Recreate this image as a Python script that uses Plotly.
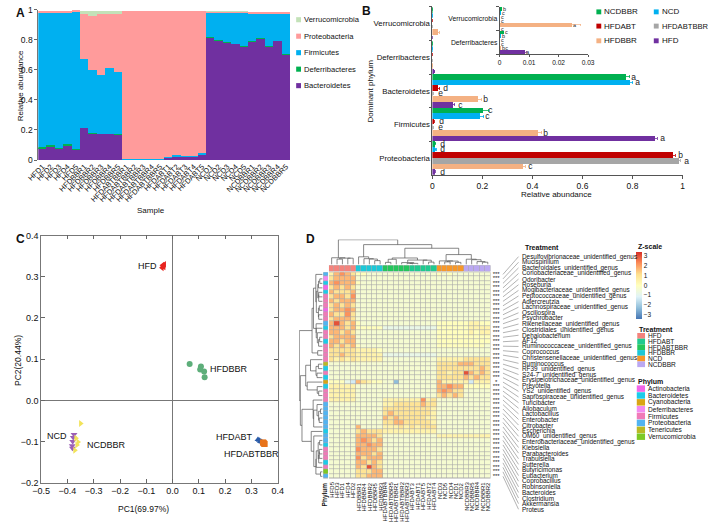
import numpy as np
import plotly.graph_objects as go

W, H = 708, 529
FONT = "Liberation Sans, Arial, sans-serif"


def fx(x):
    return x / W


def fy(y):
    return 1 - y / H


# ======================= DATA =======================
# ---- Panel A: relative abundance per sample ----
samples_A = ["HFD1", "HFD2", "HFD3", "HFD4", "HFD5",
             "HFDBBR1", "HFDBBR2", "HFDBBR3", "HFDBBR4", "HFDBBR5",
             "HFDABTBBR1", "HFDABTBBR2", "HFDABTBBR3", "HFDABTBBR4", "HFDABTBBR5",
             "HFDABT1", "HFDABT2", "HFDABT3", "HFDABT4", "HFDABT5",
             "NCD1", "NCD2", "NCD3", "NCD4", "NCD5",
             "NCDBBR1", "NCDBBR2", "NCDBBR3", "NCDBBR4", "NCDBBR5"]
bacteroidetes_A = [0.080, 0.090, 0.075, 0.095, 0.070, 0.215, 0.180, 0.175, 0.175, 0.170,
                   0.004, 0.004, 0.004, 0.004, 0.004, 0.018, 0.024, 0.022, 0.024, 0.036,
                   0.820, 0.800, 0.785, 0.775, 0.760, 0.790, 0.810, 0.760, 0.795, 0.705]
deferribacteres_A = [0.008, 0.008, 0.007, 0.010, 0.006, 0.001, 0.001, 0.001, 0.001, 0.001,
                     0.000, 0.000, 0.000, 0.000, 0.000, 0.001, 0.001, 0.001, 0.001, 0.001,
                     0.001, 0.001, 0.001, 0.001, 0.001, 0.001, 0.001, 0.001, 0.001, 0.001]
firmicutes_A = [0.892, 0.882, 0.898, 0.875, 0.914, 0.460, 0.420, 0.390, 0.435, 0.415,
                0.003, 0.003, 0.003, 0.003, 0.003, 0.005, 0.007, 0.004, 0.005, 0.008,
                0.163, 0.183, 0.197, 0.205, 0.220, 0.188, 0.168, 0.218, 0.183, 0.273]
proteobacteria_A = [0.012, 0.012, 0.012, 0.012, 0.006, 0.300, 0.360, 0.405, 0.360, 0.390,
                    0.988, 0.988, 0.988, 0.988, 0.988, 0.971, 0.963, 0.968, 0.965, 0.950,
                    0.006, 0.006, 0.007, 0.006, 0.008, 0.008, 0.008, 0.009, 0.008, 0.008]
verrucomicrobia_A = [0.000, 0.000, 0.000, 0.000, 0.000, 0.020, 0.035, 0.025, 0.025, 0.020,
                     0.000, 0.000, 0.000, 0.000, 0.000, 0.000, 0.000, 0.000, 0.000, 0.000,
                     0.002, 0.002, 0.002, 0.002, 0.002, 0.000, 0.000, 0.000, 0.000, 0.000]

# ---- Panel B: group means (categories listed bottom to top) ----
phyla_B = ["Proteobacteria", "Firmicutes", "Bacteroidetes", "Deferribacteres", "Verrucomicrobia"]
groups_B = ["HFD", "HFDBBR", "HFDABTBBR", "HFDABT", "NCD", "NCDBBR"]
means_B = {
    "HFD":       [0.010, 0.890, 0.085, 0.0085, 0.0000],
    "HFDBBR":    [0.362, 0.425, 0.185, 0.0002, 0.0245],
    "HFDABTBBR": [0.988, 0.002, 0.003, 0.0000, 0.0000],
    "HFDABT":    [0.965, 0.006, 0.025, 0.0000, 0.0000],
    "NCD":       [0.013, 0.193, 0.790, 0.0003, 0.0002],
    "NCDBBR":    [0.012, 0.205, 0.775, 0.0012, 0.0004],
}
errors_B = {
    "HFD":       [0.002, 0.010, 0.005, 0.0005, 0.0000],
    "HFDBBR":    [0.010, 0.012, 0.012, 0.0001, 0.0030],
    "HFDABTBBR": [0.003, 0.001, 0.001, 0.0000, 0.0000],
    "HFDABT":    [0.006, 0.002, 0.004, 0.0000, 0.0000],
    "NCD":       [0.002, 0.012, 0.012, 0.0001, 0.0001],
    "NCDBBR":    [0.002, 0.020, 0.015, 0.0003, 0.0002],
}
letters_B = {
    "HFD":       ["d", "a", "c", "a", "c"],
    "HFDBBR":    ["c", "b", "b", "bc", "a"],
    "HFDABTBBR": ["a", "e", "e", "c", "c"],
    "HFDABT":    ["b", "d", "d", "c", "c"],
    "NCD":       ["d", "c", "a", "b", "c"],
    "NCDBBR":    ["d", "c", "a", "c", "b"],
}

# ---- Panel C: PCA scores ----
pca_groups = ["HFD", "HFDBBR", "HFDABT", "HFDABTBBR", "NCD", "NCDBBR"]
pc1 = {
    "HFD": [-0.040, -0.036, -0.031, -0.038, -0.033],
    "HFDBBR": [0.065, 0.108, 0.105, 0.120, 0.122],
    "HFDABT": [0.325, 0.330, 0.334, 0.337, 0.340],
    "HFDABTBBR": [0.344, 0.347, 0.349, 0.346, 0.350],
    "NCD": [-0.375, -0.378, -0.380, -0.382, -0.381],
    "NCDBBR": [-0.350, -0.368, -0.364, -0.372, -0.360],
}
pc2 = {
    "HFD": [0.322, 0.326, 0.330, 0.328, 0.324],
    "HFDBBR": [0.088, 0.082, 0.075, 0.070, 0.056],
    "HFDABT": [-0.095, -0.097, -0.099, -0.100, -0.101],
    "HFDABTBBR": [-0.102, -0.104, -0.105, -0.103, -0.106],
    "NCD": [-0.083, -0.090, -0.100, -0.110, -0.116],
    "NCDBBR": [-0.056, -0.092, -0.108, -0.121, -0.101],
}

# ---- Panel D: z-scored abundance heatmap (levels) ----
heat_cols = ["HFD5", "HFD3", "HFD1", "HFD4", "HFD2",
             "HFDBBR1", "HFDBBR4", "HFDBBR2", "HFDBBR5", "HFDBBR3",
             "HFDABTBBR4", "HFDABTBBR5", "HFDABTBBR1", "HFDABTBBR2", "HFDABTBBR3",
             "HFDABT3", "HFDABT1", "HFDABT5", "HFDABT2", "HFDABT4",
             "NCD3", "NCD5", "NCD4", "NCD1", "NCD2",
             "NCDBBR3", "NCDBBR5", "NCDBBR4", "NCDBBR1", "NCDBBR2"]
heat_col_groups = ["HFD"] * 5 + ["HFDBBR"] * 5 + ["HFDABTBBR"] * 5 + ["HFDABT"] * 5 + ["NCD"] * 5 + ["NCDBBR"] * 5
genera = ["Desulfovibrionaceae_unidentified_genus", "Mucispirillum", "Bacteroidales_unidentified_genus",
          "Coriobacteriaceae_unidentified_genus", "Odoribacter", "Roseburia",
          "Mogibacteriaceae_unidentified_genus", "Peptococcaceae_unidentified_genus", "Adlercreutzia",
          "Lachnospiraceae_unidentified_genus", "Oscillospira", "Psychrobacter",
          "Rikenellaceae_unidentified_genus", "Clostridiales_unidentified_genus", "Dehalobacterium",
          "AF12", "Ruminococcaceae_unidentified_genus", "Coprococcus",
          "Christensenellaceae_unidentified_genus", "Ruminococcus", "RF39_unidentified_genus",
          "S24-7_unidentified_genus", "Erysipelotrichaceae_unidentified_genus", "Prevotella",
          "YS2_unidentified_genus", "Saprospiraceae_unidentified_genus", "Turicibacter",
          "Allobaculum", "Lactobacillus", "Enterobacter", "Citrobacter", "Escherichia",
          "OM60_unidentified_genus", "Enterobacteriaceae_unidentified_genus", "Klebsiella",
          "Parabacteroides", "Trabulsiella", "Sutterella", "Butyricimonas", "Eubacterium",
          "Coprobacillus", "Robinsoniella", "Bacteroides", "Clostridium", "Akkermansia", "Proteus"]
genus_phylum = ["Proteobacteria", "Deferribacteres", "Bacteroidetes", "Actinobacteria", "Bacteroidetes",
                "Firmicutes", "Firmicutes", "Firmicutes", "Actinobacteria", "Firmicutes", "Firmicutes",
                "Proteobacteria", "Bacteroidetes", "Firmicutes", "Firmicutes", "Bacteroidetes",
                "Firmicutes", "Firmicutes", "Firmicutes", "Firmicutes", "Tenericutes", "Bacteroidetes",
                "Firmicutes", "Bacteroidetes", "Cyanobacteria", "Bacteroidetes", "Firmicutes",
                "Firmicutes", "Firmicutes", "Proteobacteria", "Proteobacteria", "Proteobacteria",
                "Proteobacteria", "Proteobacteria", "Proteobacteria", "Bacteroidetes", "Proteobacteria",
                "Proteobacteria", "Bacteroidetes", "Firmicutes", "Firmicutes", "Firmicutes",
                "Bacteroidetes", "Firmicutes", "Verrucomicrobia", "Proteobacteria"]
heat_rows = [
    "13432 00... ..... ..... 0.0.. .....",
    "23333 ..... ..... ..... ..... .....",
    "34333 0.... ..... ..... ..... .....",
    "23232 ..... ..... ..... ..... .....",
    "32223 ..... ..... ..... ..... .....",
    "23324 ..... ..... ..... ..... .....",
    "32333 ..... ..... ..... ..... .....",
    "23232 ..... ..... ..... ..... .....",
    "23343 ..... ..... ..... ..... .....",
    "32242 ..... ..... ..... ..... .....",
    "23332 ..... ..... ..... ..... .....",
    "35323 0.... ..... ..... 00000 01100",
    "33323 00000 ccccc ccccc 00000 01111",
    "33232 ..... ..... ..... 00000 01011",
    "23333 ..... ..... ..... 00000 00000",
    "33233 ..... ..... ..... 00000 00000",
    "32323 0.... ..... ..... 00000 0000.",
    "22222 11110 ..... ..... ..... .....",
    "22322 11111 ccccc ccccc ..... .....",
    "21212 11111 ..... ..... 11111 22222",
    "..... ..... ..... ..... 22223 33222",
    "..... ..... ..... ..... 22222 22232",
    "..... ..... ..... ..... 22122 53232",
    "..... ..... ..... ..... 22222 32322",
    "000cb 32100 ..B.. ..... 31111 1b111",
    "11111 ..... ..... ..... 33433 00000",
    "11111 ..... ..... ..... 34322 .....",
    "11111 ..... ..... ..... 23232 .....",
    "11111 ..... 11111 11412 ..... .....",
    "..... ..... 11222 22322 ..... .....",
    "..... ..... 22222 22221 ..... .....",
    "..... ..... 23222 22221 ..... .....",
    "..... ..... 32322 22211 ..... .....",
    "..... ..... 22332 22221 ..... .....",
    "..... 3.... 11121 21222 ..... .....",
    "..... 23222 11111 11111 ..... .....",
    "..... 33332 ..... ..... 11111 11111",
    "..... 34323 ..... ..... ..... .....",
    "..... 33433 ..... ..... ..... .....",
    "..... 43332 ..... ..... ..... .....",
    "..... 33323 ..... ..... ..... .....",
    "..... 42333 ..... ..... ..... .....",
    "..... 33232 ..... ..... ..... .....",
    "..... 32532 ..... ..... ..... .....",
    "..... 22233 ..... ..... ..... .....",
    "..... 22333 ..... ..... ..... .....",
]
level_value = {"B": -2.3, "b": -1.3, "c": -0.8, ".": -0.35, "0": 0.05,
               "1": 0.45, "2": 1.0, "3": 1.7, "4": 2.2, "5": 3.0}
significance = ["***"] * 24 + ["*"] + ["***"] * 21

treat_order = ["HFD", "HFDABT", "HFDABTBBR", "HFDBBR", "NCD", "NCDBBR"]
phylum_order = ["Actinobacteria", "Bacteroidetes", "Cyanobacteria", "Deferribacteres",
                "Firmicutes", "Proteobacteria", "Tenericutes", "Verrucomicrobia"]

# ======================= STYLE =======================
colA = {"Bacteroidetes": "#7030A0", "Deferribacteres": "#00B050", "Firmicutes": "#00B0F0",
        "Proteobacteria": "#FF9B9B", "Verrucomicrobia": "#C3E2B8"}
colB = {"NCDBBR": "#00B050", "NCD": "#00B0F0", "HFDABT": "#C00000",
        "HFDABTBBR": "#A6A6A6", "HFDBBR": "#F4B183", "HFD": "#7030A0"}
colC = {"HFD": "#E8231F", "HFDBBR": "#5DAE7A", "HFDABT": "#2A5CAA", "HFDABTBBR": "#E8731A",
        "NCD": "#9B5FB5", "NCDBBR": "#F2E35A"}
symC = {"HFD": "triangle-left", "HFDBBR": "circle", "HFDABT": "triangle-up", "HFDABTBBR": "square",
        "NCD": "triangle-down", "NCDBBR": "triangle-right"}
treat_colors = {"HFD": "#F4837D", "HFDABT": "#20CA90", "HFDABTBBR": "#25C65C",
                "HFDBBR": "#1CC8D8", "NCD": "#F7982A", "NCDBBR": "#BBA8F2"}
phylum_colors = {"Actinobacteria": "#F266E8", "Bacteroidetes": "#1CCBEA", "Cyanobacteria": "#D9A514",
                 "Deferribacteres": "#F28AF0", "Firmicutes": "#F07AB8", "Proteobacteria": "#52B4F2",
                 "Tenericutes": "#B9B924", "Verrucomicrobia": "#7DC924"}

fig = go.Figure()
ann = []
shapes = []


def text(x, y, s, size=8, xanchor="left", yanchor="middle", angle=0, bold=False, color="#111"):
    ann.append(dict(x=fx(x), y=fy(y), xref="paper", yref="paper",
                    text=f"<b>{s}</b>" if bold else s, showarrow=False,
                    xanchor=xanchor, yanchor=yanchor, textangle=angle,
                    font=dict(size=size, color=color, family=FONT)))


def square(x0, y0, x1, y1, color):
    shapes.append(dict(type="rect", xref="paper", yref="paper", x0=fx(x0), x1=fx(x1),
                       y0=fy(y1), y1=fy(y0), fillcolor=color, line=dict(width=0)))


# ======================= PANEL A =======================
stackA = [("Bacteroidetes", bacteroidetes_A), ("Deferribacteres", deferribacteres_A),
          ("Firmicutes", firmicutes_A), ("Proteobacteria", proteobacteria_A),
          ("Verrucomicrobia", verrucomicrobia_A)]
base = np.zeros(len(samples_A))
for name, vals in stackA:
    v = np.array(vals, float)
    fig.add_trace(go.Bar(x=samples_A, y=v, base=base.copy(), offsetgroup="A",
                         marker=dict(color=colA[name], line=dict(width=0)),
                         xaxis="x", yaxis="y", showlegend=False, hoverinfo="skip"))
    base = base + v

for i, name in enumerate(["Verrucomicrobia", "Proteobacteria", "Firmicutes", "Deferribacteres", "Bacteroidetes"]):
    yy = 15 + i * 16.8
    square(292, yy - 2.6, 297, yy + 2.6, colA[name])
    text(298.5, yy, name, size=7.6)
text(9, 82, "Relative abundance", size=8, xanchor="center", angle=-90)
text(143, 209, "Sample", size=8, xanchor="center")
text(2, 8, "A", size=12, bold=True)

# ======================= PANEL B =======================
for g in groups_B:
    labs = ["\u00a0\u00a0" + l if i < 3 else "" for i, l in enumerate(letters_B[g])]
    fig.add_trace(go.Bar(y=phyla_B, x=means_B[g], orientation="h", name=g,
                         marker=dict(color=colB[g], line=dict(width=0)),
                         error_x=dict(type="data", array=errors_B[g], color=colB[g], thickness=0.8, width=1.5),
                         text=labs, textposition="outside", textangle=0, constraintext="none",
                         cliponaxis=False, textfont=dict(size=8.5, color="#222", family=FONT),
                         xaxis="x2", yaxis="y2", showlegend=False, hoverinfo="skip"))
for g in groups_B:
    fig.add_trace(go.Bar(y=phyla_B[3:], x=means_B[g][3:], orientation="h", name=g,
                         marker=dict(color=colB[g], line=dict(width=0)),
                         error_x=dict(type="data", array=errors_B[g][3:], color=colB[g], thickness=0.7, width=1),
                         text=["\u00a0" + l for l in letters_B[g][3:]], textposition="outside",
                         textangle=0, constraintext="none", cliponaxis=False,
                         textfont=dict(size=5.5, color="#222", family=FONT),
                         xaxis="x4", yaxis="y4", showlegend=False, hoverinfo="skip"))

leg_B = [("NCDBBR", 603, 7, 8), ("NCD", 662, 7, 8), ("HFDABT", 603, 21.5, 8),
         ("HFDABTBBR", 662, 21.5, 7.6), ("HFDBBR", 603, 36.5, 8), ("HFD", 662, 36.5, 8)]
for g, xx, yy, fs in leg_B:
    square(xx - 2.5, yy - 2.5, xx + 2.5, yy + 2.5, colB[g])
    text(xx + 3.5, yy, g, size=fs)
text(368, 88, "Dominant phylum", size=8, xanchor="center", angle=-90)
text(560, 193, "Relative abundance", size=8, xanchor="center")
text(358, 6, "B", size=12, bold=True)

# ======================= PANEL C =======================
for g in pca_groups:
    fig.add_trace(go.Scatter(x=pc1[g], y=pc2[g], mode="markers",
                             marker=dict(color=colC[g], symbol=symC[g], size=6, line=dict(width=0)),
                             xaxis="x3", yaxis="y3", showlegend=False, hoverinfo="skip"))
label_place = {"HFD": (-0.012, 0.0, "right"), "HFDBBR": (0.013, 0.003, "left"),
               "HFDABT": (-0.011, 0.010, "right"), "HFDABTBBR": (-0.045, -0.026, "center"),
               "NCD": (-0.013, 0.013, "right"), "NCDBBR": (0.017, -0.012, "left")}
for g in pca_groups:
    dx, dy, anchor = label_place[g]
    xs = pc1[g]
    xref_pt = min(xs) if anchor == "right" else (max(xs) if anchor == "left" else float(np.mean(xs)))
    ann.append(dict(x=xref_pt + dx, y=float(np.mean(pc2[g])) + dy, xref="x3", yref="y3", text=g,
                    showarrow=False, xanchor=anchor, yanchor="middle",
                    font=dict(size=9, color="#111", family=FONT)))
text(135, 514, "PC1(69.97%)", size=8.5, xanchor="center")
text(6, 362, "PC2(20.44%)", size=8.5, xanchor="center", angle=-90)
text(2, 238, "C", size=12, bold=True)

# ======================= PANEL D =======================
HM_L, HM_R, HM_T, HM_B = 325.7, 491.7, 272.3, 482.7
TR_T, TR_B = 265.3, 271.6
PH_L, PH_R = 319.8, 324.6
CD_T, CD_B = 239.0, 264.6
RD_L, RD_R = 295.0, 319.2

Z = np.array([[level_value[c] for c in r.replace(" ", "")] for r in heat_rows])
n_rows, n_cols = Z.shape
colorscale = [[0.0, "#4575B4"], [1 / 6, "#91BFDB"], [2 / 6, "#E0F3F8"], [3 / 6, "#FFFFBF"],
              [4 / 6, "#FEE090"], [5 / 6, "#FC8D59"], [1.0, "#D73027"]]

# grey cell borders under the heatmaps
for (x0, x1, y0, y1) in [(HM_L, HM_R, HM_T, HM_B), (HM_L, HM_R, TR_T, TR_B), (PH_L, PH_R, HM_T, HM_B)]:
    shapes.append(dict(type="rect", xref="paper", yref="paper", x0=fx(x0), x1=fx(x1), y0=fy(y1), y1=fy(y0),
                       fillcolor="#A8A8A8", line=dict(width=0), layer="below"))

fig.add_trace(go.Heatmap(z=Z, colorscale=colorscale, zmin=-3.4, zmax=3.4, xgap=0.6, ygap=0.6,
                         xaxis="x5", yaxis="y5", hoverinfo="skip",
                         colorbar=dict(x=fx(641), xanchor="left", y=fy(251.5), yanchor="top",
                                       len=67, lenmode="pixels", thickness=5.5, thicknessmode="pixels",
                                       outlinewidth=0, tickvals=[-3, -2, -1, 0, 1, 2, 3], ticks="",
                                       tickfont=dict(size=6.5, family=FONT, color="#111"),
                                       xpad=0, ypad=0)))


def discrete_scale(colors):
    k = len(colors)
    sc = []
    for i, c in enumerate(colors):
        sc += [[i / k, c], [(i + 1) / k, c]]
    return sc


treat_z = [[treat_order.index(g) for g in heat_col_groups]]
fig.add_trace(go.Heatmap(z=treat_z, colorscale=discrete_scale([treat_colors[t] for t in treat_order]),
                         zmin=-0.5, zmax=len(treat_order) - 0.5, showscale=False, xgap=0.6,
                         xaxis="x6", yaxis="y6", hoverinfo="skip"))
phy_z = [[phylum_order.index(p)] for p in genus_phylum]
fig.add_trace(go.Heatmap(z=phy_z, colorscale=discrete_scale([phylum_colors[p] for p in phylum_order]),
                         zmin=-0.5, zmax=len(phylum_order) - 0.5, showscale=False, ygap=0.6,
                         xaxis="x7", yaxis="y7", hoverinfo="skip"))


def adjacent_complete_linkage(M):
    n = len(M)
    D = np.sqrt(((M[:, None, :] - M[None, :, :]) ** 2).sum(-1))
    clusters = [([i], float(i), 0.0) for i in range(n)]
    pos, hgt = [], []
    top = 0.0
    while len(clusters) > 1:
        best, bk = None, 0
        for k in range(len(clusters) - 1):
            d = D[np.ix_(clusters[k][0], clusters[k + 1][0])].max()
            if best is None or d < best:
                best, bk = d, k
        a, b = clusters[bk], clusters[bk + 1]
        h = max(best, a[2], b[2])
        pos += [a[1], a[1], b[1], b[1], None]
        hgt += [a[2], h, h, b[2], None]
        clusters[bk:bk + 2] = [(a[0] + b[0], (a[1] + b[1]) / 2, h)]
        top = h
    return pos, hgt, top


cpos, chgt, ctop = adjacent_complete_linkage(Z.T)
fig.add_trace(go.Scatter(x=cpos, y=chgt, mode="lines", line=dict(color="#555", width=0.7),
                         xaxis="x8", yaxis="y8", showlegend=False, hoverinfo="skip"))
rpos, rhgt, rtop = adjacent_complete_linkage(Z)
fig.add_trace(go.Scatter(x=rhgt, y=rpos, mode="lines", line=dict(color="#555", width=0.7),
                         xaxis="x10", yaxis="y10", showlegend=False, hoverinfo="skip"))

# stars, leader lines, genus labels (pixel overlay axes)
row_h = (HM_B - HM_T) / n_rows
row_y = [HM_T + (i + 0.5) * row_h for i in range(n_rows)]
LAB_T, LAB_B = 256.5, 514.0
lab_y = [LAB_T + i * (LAB_B - LAB_T) / (n_rows - 1) for i in range(n_rows)]
fig.add_trace(go.Scatter(x=[497.5] * n_rows, y=row_y, mode="text", text=significance,
                         textposition="middle center",
                         textfont=dict(size=6, color="#222", family=FONT),
                         xaxis="x9", yaxis="y9", showlegend=False, hoverinfo="skip"))
lx, ly = [], []
for a, b in zip(row_y, lab_y):
    lx += [504.5, 520.5, None]
    ly += [a, b, None]
fig.add_trace(go.Scatter(x=lx, y=ly, mode="lines", line=dict(color="#666", width=0.5),
                         xaxis="x9", yaxis="y9", showlegend=False, hoverinfo="skip"))
for g, yy in zip(genera, lab_y):
    text(522, yy, g, size=6.4)

col_w = (HM_R - HM_L) / n_cols
for j, c in enumerate(heat_cols):
    text(HM_L + (j + 0.5) * col_w, HM_B + 1.5, c, size=6, xanchor="center", yanchor="top", angle=-90)
text(322, HM_B + 1.5, "Phylum", size=6.5, xanchor="center", yanchor="top", angle=-90, bold=True)
text(525, 247, "Treatment", size=7, bold=True)
text(641, 246, "Z-scale", size=7, bold=True)

text(642, 331, "Treatment", size=7, bold=True)
for i, t in enumerate(treat_order):
    yy = 337.2 + i * 5.8
    square(642.5, yy - 2.9, 650.5, yy + 2.9, treat_colors[t])
    text(651.5, yy, t, size=6.6)
text(641, 384, "Phylum", size=7, bold=True)
for i, p in enumerate(phylum_order):
    yy = 391 + i * 7.0
    square(642, yy - 3.3, 650.5, yy + 3.3, phylum_colors[p])
    text(651.5, yy, p, size=6.6)
text(300, 238, "D", size=12, bold=True)

# ======================= LAYOUT =======================
ax_font = dict(family=FONT, size=8.5, color="#111")
hidden = dict(visible=False, showgrid=False, zeroline=False, fixedrange=True)
layout = dict(
    width=W, height=H, autosize=False, margin=dict(l=0, r=0, t=0, b=0),
    paper_bgcolor="white", plot_bgcolor="rgba(0,0,0,0)",
    barmode="group", bargap=0, bargroupgap=0, hovermode=False, showlegend=False,
    font=dict(family=FONT, size=8, color="#111"),
    xaxis=dict(domain=[fx(27), fx(286)], anchor="y", type="category", tickangle=-45,
               tickmode="array", tickvals=samples_A, ticktext=samples_A,
               tickfont=dict(family=FONT, size=7.5, color="#111"), ticks="", showline=False,
               showgrid=False, zeroline=False),
    yaxis=dict(domain=[fy(158), fy(5)], anchor="x", range=[0, 1.0],
               tickvals=[0, 0.2, 0.4, 0.6, 0.8, 1.0], ticktext=["0", "0.2", "0.4", "0.6", "0.8", "1"],
               ticks="outside", ticklen=3, tickcolor="#666", showline=True, linecolor="#777",
               linewidth=0.8, tickfont=ax_font, showgrid=False, zeroline=False),
    xaxis2=dict(domain=[fx(432), fx(689)], anchor="y2", range=[0, 1.0],
                tickvals=[0, 0.2, 0.4, 0.6, 0.8, 1.0], ticktext=["0", "0.2", "0.4", "0.6", "0.8", "1"],
                ticks="outside", ticklen=3, tickcolor="#555", showline=True, linecolor="#555",
                linewidth=0.8, tickfont=ax_font, showgrid=False, zeroline=False),
    yaxis2=dict(domain=[fy(173), fy(2)], anchor="x2", type="category", categoryorder="array",
                categoryarray=phyla_B, tickson="boundaries", ticks="outside", ticklen=3,
                tickcolor="#555", showline=True, linecolor="#555", linewidth=0.8,
                tickfont=dict(family=FONT, size=7.8, color="#111"), showgrid=False, zeroline=False),
    xaxis4=dict(domain=[fx(501), fx(592)], anchor="y4", range=[0, 0.03],
                tickvals=[0, 0.01, 0.02, 0.03], ticktext=["0", "0.01", "0.02", "0.03"],
                ticks="outside", ticklen=2.5, tickcolor="#555", showline=True, linecolor="#555",
                linewidth=0.7, tickfont=dict(family=FONT, size=6.6, color="#111"),
                showgrid=False, zeroline=False),
    yaxis4=dict(domain=[fy(50), fy(2)], anchor="x4", type="category", categoryorder="array",
                categoryarray=phyla_B[3:], tickson="boundaries", ticks="outside", ticklen=2.5,
                tickcolor="#555", showline=True, linecolor="#555", linewidth=0.7,
                tickfont=dict(family=FONT, size=6.8, color="#111"), showgrid=False, zeroline=False),
    xaxis3=dict(domain=[fx(30), fx(273)], anchor="y3", range=[-0.5, 0.4],
                tickvals=[-0.5, -0.4, -0.3, -0.2, -0.1, 0.0, 0.1, 0.2, 0.3, 0.4], tickformat=".1f",
                ticks="inside", ticklen=4, tickcolor="#666", showline=True, mirror="ticks",
                linecolor="#777", linewidth=0.8, tickfont=dict(family=FONT, size=9, color="#111"),
                showgrid=False, zeroline=True, zerolinecolor="#777", zerolinewidth=0.8),
    yaxis3=dict(domain=[fy(487), fy(235)], anchor="x3", range=[-0.2, 0.4],
                tickvals=[-0.2, -0.1, 0.0, 0.1, 0.2, 0.3, 0.4], tickformat=".1f",
                ticks="inside", ticklen=4, tickcolor="#666", showline=True, mirror="ticks",
                linecolor="#777", linewidth=0.8, tickfont=dict(family=FONT, size=9, color="#111"),
                showgrid=False, zeroline=True, zerolinecolor="#777", zerolinewidth=0.8),
    xaxis5=dict(domain=[fx(HM_L), fx(HM_R)], anchor="y5", range=[-0.5, n_cols - 0.5], **hidden),
    yaxis5=dict(domain=[fy(HM_B), fy(HM_T)], anchor="x5", range=[n_rows - 0.5, -0.5], **hidden),
    xaxis6=dict(domain=[fx(HM_L), fx(HM_R)], anchor="y6", range=[-0.5, n_cols - 0.5], **hidden),
    yaxis6=dict(domain=[fy(TR_B), fy(TR_T)], anchor="x6", range=[-0.5, 0.5], **hidden),
    xaxis7=dict(domain=[fx(PH_L), fx(PH_R)], anchor="y7", range=[-0.5, 0.5], **hidden),
    yaxis7=dict(domain=[fy(HM_B), fy(HM_T)], anchor="x7", range=[n_rows - 0.5, -0.5], **hidden),
    xaxis8=dict(domain=[fx(HM_L), fx(HM_R)], anchor="y8", range=[-0.5, n_cols - 0.5], **hidden),
    yaxis8=dict(domain=[fy(CD_B), fy(CD_T)], anchor="x8", range=[0, ctop * 1.01], **hidden),
    xaxis10=dict(domain=[fx(RD_L), fx(RD_R)], anchor="y10", range=[rtop * 1.01, 0], **hidden),
    yaxis10=dict(domain=[fy(HM_B), fy(HM_T)], anchor="x10", range=[n_rows - 0.5, -0.5], **hidden),
    xaxis9=dict(domain=[0, 1], anchor="y9", range=[0, W], **hidden),
    yaxis9=dict(domain=[0, 1], anchor="x9", range=[H, 0], **hidden),
    annotations=ann, shapes=shapes,
)
fig.update_layout(**layout)

# place the figure flush with the window (no default body margin / scrollbars)
page_fix = ("document.body.style.margin='0';document.body.style.padding='0';"
            "document.body.style.overflow='hidden';"
            "var gd=document.getElementById('{plot_id}');"
            "gd.style.position='absolute';gd.style.left='0px';gd.style.top='0px';")
fig.write_html("out.html", config={"displayModeBar": False}, post_script=page_fix)
